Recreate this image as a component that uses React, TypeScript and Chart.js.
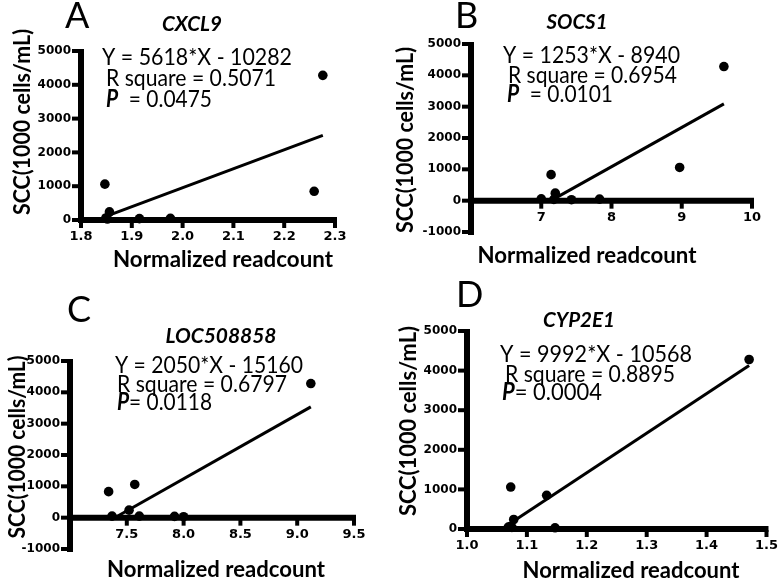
import React, { useEffect, useRef } from "react";
import { Chart, registerables } from "chart.js";

Chart.register(...registerables);

// ---------- Data ----------
// Panel A – CXCL9
const cxcl9X = [2.276, 1.847, 2.259, 1.856, 1.849, 1.915, 1.976, 1.852];
const cxcl9Y = [4280, 1060, 850, 240, 60, 40, 50, 30];
const cxcl9FitX = [1.849, 2.276];
const cxcl9FitY = [105, 2505];
const cxcl9XTicks = [1.8, 1.9, 2.0, 2.1, 2.2, 2.3];
const cxcl9XLabels = ["1.8", "1.9", "2.0", "2.1", "2.2", "2.3"];

// Panel B – SOCS1
const socs1X = [9.6, 8.97, 7.14, 7.2, 7.0, 7.18, 7.43, 7.83];
const socs1Y = [4280, 1060, 830, 240, 60, 40, 30, 50];
const socs1FitX = [7.15, 9.6];
const socs1FitY = [19, 3089];
const socs1XTicks = [7, 8, 9, 10];
const socs1XLabels = ["7", "8", "9", "10"];

// Panel C – LOC508858
const locX = [9.12, 7.57, 7.34, 7.52, 7.37, 7.61, 7.92, 8.0];
const locY = [4280, 1060, 830, 240, 50, 50, 40, 30];
const locFitX = [7.37, 9.12];
const locFitY = [-52, 3536];
const locXTicks = [7.5, 8.0, 8.5, 9.0, 9.5];
const locXLabels = ["7.5", "8.0", "8.5", "9.0", "9.5"];

// Panel D – CYP2E1
const cypX = [1.471, 1.073, 1.133, 1.078, 1.069, 1.072, 1.147, 1.075];
const cypY = [4280, 1060, 850, 240, 50, 60, 30, 40];
const cypFitX = [1.073, 1.471];
const cypFitY = [153, 4130];
const cypXTicks = [1.0, 1.1, 1.2, 1.3, 1.4, 1.5];
const cypXLabels = ["1.0", "1.1", "1.2", "1.3", "1.4", "1.5"];

// Shared y ticks
const yTicksPos = [0, 1000, 2000, 3000, 4000, 5000];
const yLabelsPos = ["0", "1000", "2000", "3000", "4000", "5000"];
const yTicksNeg = [-1000, 0, 1000, 2000, 3000, 4000, 5000];
const yLabelsNeg = ["-1000", "0", "1000", "2000", "3000", "4000", "5000"];

const yTitle = "SCC(1000 cells/mL)";
const xTitle = "Normalized readcount";

// ---------- Styling ----------
const W = 778;
const H = 581;
const ANNO = "Lato, 'Open Sans', sans-serif";
const TICKF = "'DejaVu Sans', 'Liberation Sans', Arial, sans-serif";
const fReg = (s: number) => `${s}px ${ANNO}`;
const fBold = (s: number) => `bold ${s}px ${ANNO}`;
const fBI = (s: number) => `italic bold ${s}px ${ANNO}`;

type Part = { s: string; font: string };
type TextItem = {
  x: number; y: number; parts: Part[]; align?: "left" | "center";
  rot?: number; baseline?: CanvasTextBaseline; w?: number;
};

type PanelCfg = {
  area: { l: number; r: number; t: number; b: number };
  xMin: number; xMax: number; yMin: number; yMax: number;
  px: number[]; py: number[]; fx: number[]; fy: number[];
  xTicks: number[]; xLabels: string[]; yTicks: number[]; yLabels: string[];
  texts: TextItem[];
};

const letter = (t: string, x: number, y: number): TextItem => ({ x, y, parts: [{ s: t, font: fReg(36) }] });
const gene = (t: string, x: number, y: number, w: number): TextItem => ({ x, y, w, align: "center", parts: [{ s: t, font: fBI(20) }] });
const anno = (t: string, x: number, y: number, w: number): TextItem => ({ x, y, w, parts: [{ s: t, font: fReg(24) }] });
const pval = (rest: string, x: number, y: number, w: number): TextItem => ({ x, y, w, parts: [{ s: "P", font: fBI(24) }, { s: rest, font: fReg(24) }] });
const yT = (x: number, y: number, w: number): TextItem => ({ x, y, w, align: "center", rot: -Math.PI / 2, baseline: "middle", parts: [{ s: yTitle, font: fBold(22) }] });
const xT = (x: number, y: number, w: number): TextItem => ({ x, y, w, align: "center", parts: [{ s: xTitle, font: fBold(22) }] });

const panels: PanelCfg[] = [
  {
    area: { l: 81, r: 335, t: 51, b: 220 },
    xMin: 1.8, xMax: 2.3, yMin: 0, yMax: 5000,
    px: cxcl9X, py: cxcl9Y, fx: cxcl9FitX, fy: cxcl9FitY,
    xTicks: cxcl9XTicks, xLabels: cxcl9XLabels, yTicks: yTicksPos, yLabels: yLabelsPos,
    texts: [
      letter("A", 65, 28),
      gene("CXCL9", 192, 31, 60),
      anno("Y = 5618*X - 10282", 102, 65, 190),
      anno("R square = 0.5071", 106, 86, 170),
      pval("  = 0.0475", 106, 107, 106),
      yT(23, 122, 186),
      xT(223, 267, 220),
    ],
  },
  {
    area: { l: 471, r: 752, t: 44, b: 232 },
    xMin: 6, xMax: 10, yMin: -1000, yMax: 5000,
    px: socs1X, py: socs1Y, fx: socs1FitX, fy: socs1FitY,
    xTicks: socs1XTicks, xLabels: socs1XLabels, yTicks: yTicksNeg, yLabels: yLabelsNeg,
    texts: [
      letter("B", 455, 28),
      gene("SOCS1", 577, 29, 61),
      anno("Y = 1253*X - 8940", 503, 63, 177),
      anno("R square = 0.6954", 508, 83, 169),
      pval("  = 0.0101", 507, 102, 106),
      yT(406, 140, 186),
      xT(587, 263, 219),
    ],
  },
  {
    area: { l: 70, r: 354, t: 361, b: 549 },
    xMin: 7.0, xMax: 9.5, yMin: -1000, yMax: 5000,
    px: locX, py: locY, fx: locFitX, fy: locFitY,
    xTicks: locXTicks, xLabels: locXLabels, yTicks: yTicksNeg, yLabels: yLabelsNeg,
    texts: [
      letter("C", 67, 322),
      gene("LOC508858", 221, 343, 111),
      anno("Y = 2050*X - 15160", 115, 373, 188),
      anno("R square = 0.6797", 117, 392, 170),
      pval("= 0.0118", 117, 410, 95),
      yT(18, 447, 183),
      xT(216, 577, 218),
    ],
  },
  {
    area: { l: 467, r: 768, t: 331, b: 529 },
    xMin: 1.0, xMax: 1.5, yMin: 0, yMax: 5000,
    px: cypX, py: cypY, fx: cypFitX, fy: cypFitY,
    xTicks: cypXTicks, xLabels: cypXLabels, yTicks: yTicksPos, yLabels: yLabelsPos,
    texts: [
      letter("D", 456, 307),
      gene("CYP2E1", 579, 327, 72),
      anno("Y = 9992*X - 10568", 500, 362, 192),
      anno("R square = 0.8895", 505, 382, 170),
      pval("= 0.0004", 502, 400, 100),
      yT(409, 421, 190),
      xT(631, 578, 217),
    ],
  },
];

const Y_AXIS_W = 50;

function makeTextPlugin(cfg: PanelCfg) {
  return {
    id: "panelText",
    afterDraw(chart: any) {
      const ctx: CanvasRenderingContext2D = chart.ctx;
      ctx.save();
      ctx.fillStyle = "#000";
      for (const t of cfg.texts) {
        ctx.save();
        ctx.translate(t.x, t.y);
        if (t.rot) ctx.rotate(t.rot);
        ctx.textBaseline = t.baseline || "alphabetic";
        ctx.textAlign = "left";
        const widths = t.parts.map((p) => {
          ctx.font = p.font;
          return ctx.measureText(p.s).width;
        });
        const total = widths.reduce((a, b) => a + b, 0);
        const sx = t.w ? t.w / total : 1;
        ctx.scale(sx, 1);
        let x = t.align === "center" ? -total / 2 : 0;
        t.parts.forEach((p, i) => {
          ctx.font = p.font;
          ctx.fillText(p.s, x, 0);
          x += widths[i];
        });
        ctx.restore();
      }
      ctx.restore();
    },
  };
}

// Thick GraphPad-style axes drawn through the chart's own scales
function makeAxisPlugin(cfg: PanelCfg) {
  return {
    id: "thickAxes",
    beforeDatasetsDraw(chart: any) {
      const ctx: CanvasRenderingContext2D = chart.ctx;
      const xs = chart.scales.x;
      const ys = chart.scales.y;
      const left = xs.getPixelForValue(cfg.xMin);
      const right = xs.getPixelForValue(cfg.xMax);
      const top = ys.getPixelForValue(cfg.yMax);
      const bottom = ys.getPixelForValue(cfg.yMin);
      const zero = ys.getPixelForValue(0);
      ctx.save();
      ctx.strokeStyle = "#000";
      ctx.lineCap = "butt";
      // y axis
      ctx.lineWidth = 6;
      ctx.beginPath();
      ctx.moveTo(left, top - 2);
      ctx.lineTo(left, bottom + 3);
      ctx.stroke();
      // x axis at y = 0
      ctx.beginPath();
      ctx.moveTo(left - 3, zero);
      ctx.lineTo(right + 2, zero);
      ctx.stroke();
      // y ticks
      ctx.lineWidth = 4;
      for (const v of cfg.yTicks) {
        const p = ys.getPixelForValue(v);
        ctx.beginPath();
        ctx.moveTo(left - 1, p);
        ctx.lineTo(left - 9, p);
        ctx.stroke();
      }
      // x ticks
      for (const v of cfg.xTicks) {
        const p = xs.getPixelForValue(v);
        ctx.beginPath();
        ctx.moveTo(p, zero + 1);
        ctx.lineTo(p, zero + 8);
        ctx.stroke();
      }
      ctx.restore();
    },
  };
}

function Panel({ cfg }: { cfg: PanelCfg }) {
  const ref = useRef<HTMLCanvasElement>(null);
  useEffect(() => {
    const canvas = ref.current!;
    const { area } = cfg;
    const points = cfg.px.map((x, i) => ({ x, y: cfg.py[i] }));
    const fit = cfg.fx.map((x, i) => ({ x, y: cfg.fy[i] }));
    const chart = new Chart(canvas, {
      type: "scatter",
      data: {
        datasets: [
          {
            type: "line",
            data: fit,
            borderColor: "#000",
            borderWidth: 3,
            pointRadius: 0,
            showLine: true,
            fill: false,
            clip: false,
          } as any,
          {
            data: points,
            backgroundColor: "#000",
            borderWidth: 0,
            pointRadius: 4.8,
            clip: false,
          } as any,
        ],
      },
      options: {
        animation: false,
        responsive: false,
        devicePixelRatio: 1,
        events: [],
        layout: {
          padding: {
            left: area.l - Y_AXIS_W,
            top: area.t,
            right: W - area.r,
            bottom: H - area.b,
          },
        },
        plugins: { legend: { display: false }, tooltip: { enabled: false }, title: { display: false } },
        scales: {
          x: {
            type: "linear",
            position: { y: 0 } as any,
            min: cfg.xMin,
            max: cfg.xMax,
            afterBuildTicks: (s: any) => {
              s.ticks = cfg.xTicks.map((v) => ({ value: v }));
            },
            afterFit: (s: any) => {
              s.height = 0;
            },
            grid: {
              drawOnChartArea: false,
              drawTicks: true,
              tickLength: 9,
              tickColor: "rgba(0,0,0,0)",
              color: "rgba(0,0,0,0)",
            },
            border: { display: false },
            ticks: {
              color: "#000",
              font: { family: TICKF, weight: "bold", size: 13 },
              padding: 0,
              maxRotation: 0,
              autoSkip: false,
              callback: (_v: any, i: number) => cfg.xLabels[i],
            },
          } as any,
          y: {
            type: "linear",
            position: "left",
            min: cfg.yMin,
            max: cfg.yMax,
            afterBuildTicks: (s: any) => {
              s.ticks = cfg.yTicks.map((v) => ({ value: v }));
            },
            afterFit: (s: any) => {
              s.width = Y_AXIS_W;
            },
            grid: {
              drawOnChartArea: false,
              drawTicks: true,
              tickLength: 10,
              tickColor: "rgba(0,0,0,0)",
              color: "rgba(0,0,0,0)",
            },
            border: { display: false },
            ticks: {
              color: "#000",
              font: { family: TICKF, weight: "bold", size: 12 },
              padding: 0,
              autoSkip: false,
              callback: (_v: any, i: number) => cfg.yLabels[i],
            },
          } as any,
        },
      },
      plugins: [makeAxisPlugin(cfg), makeTextPlugin(cfg)],
    });
    return () => chart.destroy();
  }, [cfg]);
  return (
    <canvas
      ref={ref}
      width={W}
      height={H}
      style={{ position: "absolute", left: 0, top: 0, width: W, height: H }}
    />
  );
}

export default function App() {
  return (
    <div style={{ position: "fixed", left: 0, top: 0, width: W, height: H, background: "#fff", overflow: "hidden" }}>
      {panels.map((p, i) => (
        <Panel key={i} cfg={p} />
      ))}
    </div>
  );
}
